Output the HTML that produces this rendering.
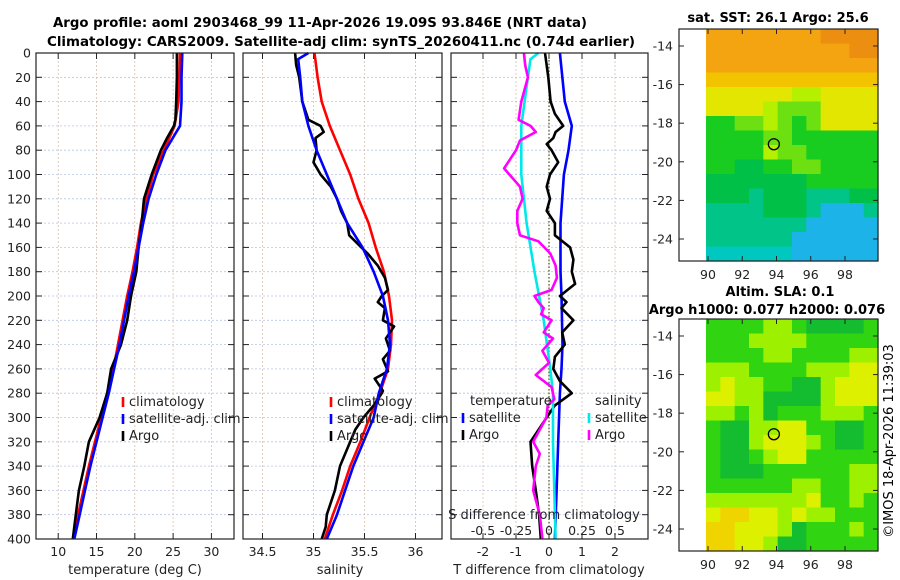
<!DOCTYPE html>
<html><head><meta charset="utf-8"><style>
html,body{margin:0;padding:0;background:#fff;}
svg{display:block;font-family:"DejaVu Sans","Liberation Sans",sans-serif;}
</style></head><body>
<svg id="fig" width="900" height="580" viewBox="0 0 900 580" xmlns="http://www.w3.org/2000/svg">
<text x="320" y="27" font-size="13" font-weight="bold" text-anchor="middle" textLength="534" lengthAdjust="spacingAndGlyphs">Argo profile: aoml 2903468_99 11-Apr-2026 19.09S 93.846E (NRT data)</text>
<text x="341" y="46" font-size="13" font-weight="bold" text-anchor="middle" textLength="588" lengthAdjust="spacingAndGlyphs">Climatology: CARS2009. Satellite-adj clim: synTS_20260411.nc (0.74d earlier)</text>
<g id="g1"></g>
<g id="g2"></g>
<g id="g3"></g>
<g id="m1"></g>
<g id="m2"></g>
<text transform="translate(893,441) rotate(-90)" font-size="13" text-anchor="middle">©IMOS 18-Apr-2026 11:39:03</text>
</svg>
<script>
// ---------- data ----------
const depthTicks = [0,20,40,60,80,100,120,140,160,180,200,220,240,260,280,300,320,340,360,380,400];
const climDepth = [0,20,40,60,80,100,120,140,160,180,200,220,240,260,280,300,320,340,360,380,400];
const climT = [25.9,25.8,25.7,25.2,23.8,22.4,21.5,20.8,20.3,19.7,19.0,18.4,17.8,17.2,16.4,15.6,14.8,14.0,13.3,12.6,12.0];
const satT = [26.2,26.1,26.1,25.9,24.0,22.8,21.8,21.1,20.5,19.9,19.2,18.6,18.0,17.3,16.6,15.8,15.0,14.2,13.5,12.8,12.1];
const argoTDepth = [0,20,40,55,60,70,80,100,120,140,160,180,200,220,240,260,280,300,320,340,360,380,400];
const argoT = [25.5,25.5,25.4,25.3,25.1,24.2,23.4,22.2,21.2,20.9,20.5,20.2,19.5,19.0,18.2,16.9,16.4,15.4,14.0,13.4,12.7,12.3,11.9];
const climS = [35.01,35.04,35.08,35.16,35.26,35.36,35.44,35.54,35.61,35.69,35.74,35.77,35.76,35.73,35.65,35.55,35.46,35.36,35.28,35.19,35.11];
const satSDepth = [0,5,20,40,60,80,100,120,140,160,180,200,220,240,260,280,300,320,340,360,380,400];
const satS = [34.95,34.85,34.87,34.89,34.95,35.03,35.13,35.23,35.33,35.48,35.59,35.68,35.73,35.75,35.72,35.64,35.59,35.49,35.39,35.31,35.23,35.13];
const argoSDepth = [0,10,20,40,55,60,65,70,80,90,100,110,120,130,140,150,160,165,175,185,195,200,205,210,220,225,235,245,252,262,268,278,280,290,300,310,320,340,360,380,390,400];
const argoS = [34.82,34.83,34.86,34.89,34.95,35.07,35.10,35.02,35.03,35.00,35.07,35.17,35.23,35.27,35.33,35.35,35.47,35.53,35.63,35.70,35.73,35.67,35.63,35.70,35.68,35.79,35.71,35.75,35.68,35.73,35.60,35.68,35.67,35.59,35.49,35.41,35.36,35.26,35.21,35.13,35.12,35.08];
const satTdDepth = [0,40,60,80,100,140,180,200,240,260,280,320,360,400];
const satTd = [0.33,0.48,0.69,0.59,0.45,0.35,0.35,0.38,0.41,0.38,0.33,0.28,0.23,0.18];
const argoTdDepth = [0,20,40,50,60,65,70,75,80,90,100,110,120,130,140,150,160,170,180,190,200,205,210,220,230,240,250,260,270,280,290,300,320,340,360,380,400];
const argoTd = [-0.12,-0.02,0.05,0.18,0.43,0.2,0.13,-0.07,0.08,0.28,0.03,-0.07,0.03,-0.07,0.18,0.18,0.64,0.74,0.69,0.79,0.33,0.53,0.38,0.74,0.4,0.48,0.18,0.13,0.33,0.69,0.18,-0.07,-0.56,-0.51,-0.40,-0.30,-0.25];
const satSdDepth = [0,5,20,60,100,140,180,220,260,280,320,360,400];
const satSd = [-0.08,-0.14,-0.16,-0.21,-0.21,-0.17,-0.11,-0.04,0.01,0.03,0.03,0.04,0.05];
const argoSdDepth = [0,10,20,40,55,60,65,72,80,90,95,100,110,120,130,140,150,155,165,175,185,195,200,205,210,215,220,230,235,245,255,265,275,285,290,300,320,330,340,360,380,400];
const argoSd = [-0.19,-0.18,-0.16,-0.21,-0.23,-0.14,-0.10,-0.22,-0.25,-0.31,-0.34,-0.30,-0.22,-0.20,-0.24,-0.24,-0.22,-0.08,0.01,0.05,0.06,0.02,-0.11,-0.08,-0.04,-0.06,0.02,-0.04,0.03,-0.05,0.0,-0.10,0.02,0.04,-0.01,-0.02,-0.12,-0.07,-0.10,-0.12,-0.07,-0.05];
const tTicks = [10,15,20,25,30];
const sTicks = [34.5,35,35.5,36];
const tdTicks = [-2,-1,0,1,2];
const sdTicks = [-0.5,-0.25,0,0.25,0.5];
const sdTickLabels = ["-0.5","-0.25","0","0.25","0.5"];
const latTicks = [-14,-16,-18,-20,-22,-24];
const lonTicks = [90,92,94,96,98];
const argoLon = 93.846;
const argoLat = -19.09;
const sstGrid = ["111111110000","111111111100","111111111111","222222222222","333333443333","333345553333","665545653333","666655666666","666645566666","667766556666","777777766666","777877788877","888877789998","888888899999","888888999999","aaaaaa999999"];
const slaGrid = ["222233211112","222333322222","222233222233","333222233344","343322113444","443311113444","332312223332","211334422112","211344432112","211234422222","211122222233","222222332233","333333342232","455443433222","554443122232","554431122222"];

// ---------- helpers ----------
const NS = "http://www.w3.org/2000/svg";
function mk(parent, tag, attrs, txt){
  const e = document.createElementNS(NS, tag);
  for (const k in attrs) e.setAttribute(k, attrs[k]);
  if (txt !== undefined) e.textContent = txt;
  parent.appendChild(e);
  return e;
}
const Y0 = 53, Y1 = 539;
function yD(d){ return Y0 + d*(Y1-Y0)/400; }

function panelFrame(g, x0, x1, xs, xticks, xlabels, showY){
  for (const d of depthTicks) {
    const y = yD(d);
    const gl = mk(g,'line',{x1:x0,x2:x1,y1:y,y2:y,stroke:'#b8c4e8','stroke-width':0.8,'stroke-dasharray':'2,2'});
    
    
    mk(g,'line',{x1:x0,x2:x0+6,y1:y,y2:y,stroke:'#222','stroke-width':1});
    mk(g,'line',{x1:x1-6,x2:x1,y1:y,y2:y,stroke:'#222','stroke-width':1});
    if (showY) {
      const t = mk(g,'text',{x:31,y:y+4.5,'font-size':12.5,'text-anchor':'end',fill:'#222'}, String(d));
      
      
    }
  }
  xticks.forEach((v,i)=>{
    const x = xs(v);
    const gl = mk(g,'line',{x1:x,x2:x,y1:Y0,y2:Y1,stroke:'#d8c0b0','stroke-width':0.8,'stroke-dasharray':'2,2'});
    
    
    mk(g,'line',{x1:x,x2:x,y1:Y0,y2:Y0+6,stroke:'#222','stroke-width':1});
    mk(g,'line',{x1:x,x2:x,y1:Y1-6,y2:Y1,stroke:'#222','stroke-width':1});
    const t = mk(g,'text',{x:x,y:556,'font-size':12.5,'text-anchor':'middle',fill:'#222'}, xlabels[i]);
    
    
  });
}
function border(g,x0,x1){
  const r = mk(g,'rect',{x:x0,y:Y0,width:x1-x0,height:Y1-Y0,fill:'none',stroke:'#222','stroke-width':1.2});
  
  
}
function line(g, xs, vals, depths, color, name){
  const pts = vals.map((v,i)=> xs(v).toFixed(1)+','+yD(depths[i]).toFixed(1)).join(' ');
  const p = mk(g,'polyline',{points:pts,fill:'none',stroke:color,'stroke-width':2.6,'stroke-linejoin':'round'});
  
  
}
function legendEntry(g, x, y, color, label){
  const e = mk(g,'g',{});
  
  
  mk(e,'line',{x1:x,x2:x,y1:y-9,y2:y+1,stroke:color,'stroke-width':2.6});
  mk(e,'text',{x:x+6,y:y,'font-size':13,fill:'#222'}, label);
}

// ---------- panel 1 ----------
const g1 = document.getElementById('g1');
const P1 = [36,234];
const xT = v => 36 + (v-7.1)*7.66;
panelFrame(g1,P1[0],P1[1],xT,tTicks,tTicks.map(String),true);
line(g1,xT,climT,climDepth,'#f00','climatology-temperature-line');
line(g1,xT,argoT,argoTDepth,'#000','argo-temperature-line');
line(g1,xT,satT,climDepth,'#00f','satellite-temperature-line');
border(g1,P1[0],P1[1]);
legendEntry(g1,123,406,'#f00','climatology');
legendEntry(g1,123,423,'#00f','satellite-adj. clim');
legendEntry(g1,123,440,'#000','Argo');
{const t=mk(g1,'text',{x:135,y:574,'font-size':13,'text-anchor':'middle',fill:'#222'},'temperature (deg C)');
 }

// ---------- panel 2 ----------
const g2 = document.getElementById('g2');
const P2 = [243,442];
const xS = v => 313.5 + (v-35)*102;
panelFrame(g2,P2[0],P2[1],xS,sTicks,sTicks.map(String),false);
line(g2,xS,climS,climDepth,'#f00','climatology-salinity-line');
line(g2,xS,argoS,argoSDepth,'#000','argo-salinity-line');
line(g2,xS,satS,satSDepth,'#00f','satellite-salinity-line');
border(g2,P2[0],P2[1]);
legendEntry(g2,331,406,'#f00','climatology');
legendEntry(g2,331,423,'#00f','satellite-adj. clim');
legendEntry(g2,331,440,'#000','Argo');
{const t=mk(g2,'text',{x:340,y:574,'font-size':13,'text-anchor':'middle',fill:'#222'},'salinity');
 }

// ---------- panel 3 ----------
const g3 = document.getElementById('g3');
const P3 = [451,648];
const xTd = v => 549 + v*33;
const xSd = v => 549 + v*132;
panelFrame(g3,P3[0],P3[1],xTd,tdTicks,tdTicks.map(String),false);
{const z=mk(g3,'line',{x1:xTd(0),x2:xTd(0),y1:Y0,y2:Y1,stroke:'#445522','stroke-width':1.2,'stroke-dasharray':'1.5,2'});
 }
line(g3,xTd,satTd,satTdDepth,'#00f','satellite-temperature-diff-line');
line(g3,xTd,argoTd,argoTdDepth,'#000','argo-temperature-diff-line');
line(g3,xSd,satSd,satSdDepth,'#00e8e8','satellite-salinity-diff-line');
line(g3,xSd,argoSd,argoSdDepth,'#f0f','argo-salinity-diff-line');
border(g3,P3[0],P3[1]);
{const t=mk(g3,'text',{x:470,y:405,'font-size':13,fill:'#222'},'temperature');
 
const s=mk(g3,'text',{x:595,y:405,'font-size':13,fill:'#222'},'salinity');
 }
legendEntry(g3,463,422,'#00f','satellite');
legendEntry(g3,463,439,'#000','Argo');
legendEntry(g3,589,422,'#00e8e8','satellite');
legendEntry(g3,589,439,'#f0f','Argo');
{const t=mk(g3,'text',{x:544,y:519,'font-size':13,'text-anchor':'middle',fill:'#222'},'S difference from climatology');
 }
sdTicks.forEach((v,i)=>{
  const t=mk(g3,'text',{x:xSd(v),y:535,'font-size':12.5,'text-anchor':'middle',fill:'#222'},sdTickLabels[i]);
  
  
});
{const t=mk(g3,'text',{x:549,y:574,'font-size':13,'text-anchor':'middle',fill:'#222'},'T difference from climatology');
 }

// ---------- maps ----------
const sstPal = {'0':'#ec8e10','1':'#f4a410','2':'#f2c400','3':'#e2e600','4':'#b4f000','5':'#6ce010','6':'#18cc20','7':'#00c048','8':'#00c488','a':'#00c8c0','9':'#1cb4e8'};
const slaPal = {'1':'#14bc30','2':'#30d410','3':'#9cf000','4':'#dcf000','5':'#f0d400'};
function drawMap(id, top, bottom, grid, pal, t1, t2){
  const g = document.getElementById(id);
  const bx0=679,bx1=878;
  const latTop=-13.12, latBot=-25.14;
  const yL = la => top + (latTop-la)*(bottom-top)/(latTop-latBot);
  const xL = lo => 708 + (lo-90)*17.125;
  const dx0 = 706, rows=grid.length, cols=grid[0].length;
  const cw=(bx1-dx0)/cols, ch=(bottom-top)/rows;
  const img = mk(g,'g',{});
  
  
  grid.forEach((row,r)=>{
    for(let c=0;c<cols;c++){
      mk(img,'rect',{x:(dx0+c*cw).toFixed(2),y:(top+r*ch).toFixed(2),width:(cw+0.6).toFixed(2),height:(ch+0.6).toFixed(2),fill:pal[row[c]]});
    }
  });
  latTicks.forEach(la=>{
    const y=yL(la);
    mk(g,'line',{x1:bx0,x2:bx0+5,y1:y,y2:y,stroke:'#222'});
    mk(g,'line',{x1:bx1-5,x2:bx1,y1:y,y2:y,stroke:'#222'});
    const t=mk(g,'text',{x:673,y:y+4.5,'font-size':12.5,'text-anchor':'end',fill:'#222'},String(la));
    
    
  });
  lonTicks.forEach(lo=>{
    const x=xL(lo);
    mk(g,'line',{x1:x,x2:x,y1:bottom-5,y2:bottom,stroke:'#222'});
    mk(g,'line',{x1:x,x2:x,y1:top,y2:top+5,stroke:'#222'});
    const t=mk(g,'text',{x:x,y:bottom+18,'font-size':12.5,'text-anchor':'middle',fill:'#222'},String(lo));
    
    
  });
  const ci=mk(g,'circle',{cx:xL(argoLon),cy:yL(argoLat),r:5.5,fill:'none',stroke:'#000','stroke-width':1.3});
  
  
  const fr=mk(g,'rect',{x:bx0,y:top,width:bx1-bx0,height:bottom-top,fill:'none',stroke:'#222','stroke-width':1.2});
  
  
  t1 && (()=>{const t=mk(g,'text',{x:t1[1],y:t1[2],'font-size':13,'font-weight':'bold','text-anchor':'middle',fill:'#000'},t1[0]);
     })();
  t2 && (()=>{const t=mk(g,'text',{x:t2[1],y:t2[2],'font-size':13,'font-weight':'bold','text-anchor':'middle',fill:'#000'},t2[0]);
     })();
}
drawMap('m1',29,261,sstGrid,sstPal,['sat. SST: 26.1 Argo: 25.6',778,22],null);
drawMap('m2',319,551,slaGrid,slaPal,['Altim. SLA: 0.1',780,296],['Argo h1000: 0.077 h2000: 0.076',767,314]);
</script>
</body></html>
